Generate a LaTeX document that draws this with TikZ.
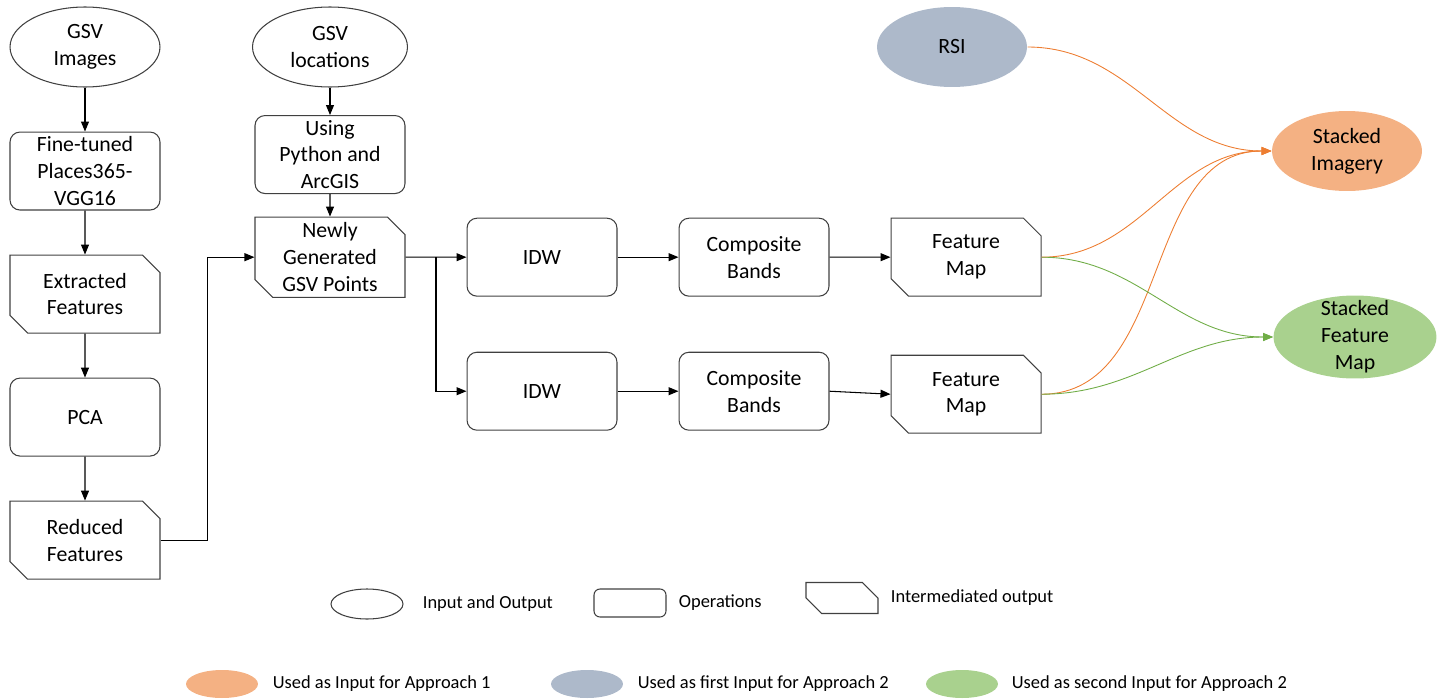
\documentclass[tikz,border=0pt]{standalone}
\usepackage{fontspec}
\setmainfont{Carlito}
\usetikzlibrary{positioning,arrows.meta,calc,shapes.geometric,shapes.misc}
\definecolor{edge}{HTML}{404040}
\definecolor{rsiblue}{HTML}{ADB9CA}
\definecolor{appone}{HTML}{F4B183}
\definecolor{apptwo}{HTML}{A9D18E}
\definecolor{oline}{HTML}{ED7D31}
\definecolor{gline}{HTML}{70AD47}

\begin{document}
\begin{tikzpicture}[
    x=0.02cm, y=-0.02cm,
    node distance=8.8mm and 12.2mm,
    font=\fontsize{12.4}{15.3}\selectfont,
    io/.style={draw=edge, line width=0.6pt, ellipse, minimum width=3cm, minimum height=1.6cm, inner sep=0pt, align=center},
    op/.style={draw=edge, line width=0.6pt, rounded corners=2mm, minimum width=3cm, minimum height=1.56cm, inner sep=0pt, align=center},
    mid/.style={draw=edge, line width=0.6pt, chamfered rectangle, chamfered rectangle corners={north east,south west}, chamfered rectangle xsep=0.24cm, minimum width=3cm, minimum height=1.56cm, inner sep=0pt, align=center},
    arr/.style={-{Triangle[length=2mm,width=1.6mm]}, line width=0.6pt},
    oarr/.style={arr, draw=oline, line width=0.5pt},
    garr/.style={arr, draw=gline, line width=0.5pt},
    legtxt/.style={font=\fontsize{10.5}{12}\selectfont, inner sep=0pt, anchor=west}
]
    \useasboundingbox (0,0) rectangle (1448,700);

    % left column
    \node[io] (gsvimg) at (85,47) {GSV\\Images};
    \node[op, below=of gsvimg] (vgg) {Fine-tuned\\Places365-\\VGG16};
    \node[mid, below=of vgg] (feat) {Extracted\\Features};
    \node[op, below=of feat] (pca) {PCA};
    \node[mid, below=of pca] (red) {Reduced\\Features};

    % locations
    \node[io, minimum width=3.1cm] (gsvloc) at (330,47) {GSV\\locations};
    \node[op, below=5.5mm of gsvloc] (py) {Using\\Python and\\ArcGIS};
    \node[mid, below=4.5mm of py] (pts) {Newly\\Generated\\GSV Points};

    % two rows
    \node[op, right=of pts] (idwa) {IDW};
    \node[op, right=of idwa] (compa) {Composite\\Bands};
    \node[mid, right=of compa] (mapa) {Feature\\Map};
    \node[op, below=11mm of idwa] (idwb) {IDW};
    \node[op, right=of idwb] (compb) {Composite\\Bands};
    \node[mid, right=of compb, yshift=-0.6mm] (mapb) {Feature\\Map};

    % outputs
    \node[io, draw=none, fill=rsiblue] (rsi) at (952,47) {RSI};
    \node[io, draw=none, fill=appone] (stimg) at (1347,151) {Stacked\\Imagery};
    \node[io, draw=none, fill=apptwo, minimum width=3.26cm, minimum height=1.66cm,
        label={[align=center]center:Stacked\\Feature\\Map}] (stfm) at (1355,337) {};

    \draw[arr] (gsvimg) -- (vgg);
    \draw[arr] (vgg) -- (feat);
    \draw[arr] (feat) -- (pca);
    \draw[arr] (pca) -- (red);
    \draw[arr] (red.east) -- ++(47,0) |- (pts.west);
    \draw[arr] (gsvloc) -- (py);
    \draw[arr] (py) -- (pts);

    \coordinate (split) at ($(pts.east)!0.5!(idwa.west)$);
    \draw[arr] (pts) -- (idwa);
    \draw[arr] (split) |- (idwb);
    \draw[arr] (idwa) -- (compa);
    \draw[arr] (compa) -- (mapa);
    \draw[arr] (idwb) -- (compb);
    \draw[arr] (compb.east) -- (mapb.west);

    \draw[oarr] (rsi.east) to[out=0,in=180] (stimg.west);
    \draw[oarr] (mapa.east) to[out=0,in=180] (stimg.west);
    \draw[oarr] (mapb.east) to[out=0,in=180] (stimg.west);
    \draw[garr] (mapa.east) to[out=0,in=180] (stfm.west);
    \draw[garr] (mapb.east) to[out=0,in=180] (stfm.west);

    % legend
    \node[io, minimum width=1.44cm, minimum height=0.6cm] (lgio) at (367,604) {};
    \node[legtxt, right=0.38cm of lgio] (lgiotxt) {Input and Output};
    \node[op, minimum width=1.44cm, minimum height=0.56cm, rounded corners=1.2mm] (lgop) at (630,603) {};
    \node[legtxt, right=0.24cm of lgop] (lgoptxt) {Operations};
    \node[mid, minimum width=1.44cm, minimum height=0.58cm, chamfered rectangle sep=0.16cm] (lgint) at (842,598) {\hspace*{1cm}\rule{0pt}{3mm}};
    \node[legtxt, right=0.24cm of lgint] (lginttxt) {Intermediated output};

    \node[io, draw=none, fill=appone, minimum width=1.44cm, minimum height=0.56cm] (lgo) at (222,684) {};
    \node[legtxt, right=0.28cm of lgo] (lgotxt) {Used as Input for Approach 1};
    \node[io, draw=none, fill=rsiblue, minimum width=1.44cm, minimum height=0.56cm] (lgb) at (587,684) {};
    \node[legtxt, right=0.28cm of lgb] (lgbtxt) {Used as first Input for Approach 2};
    \node[io, draw=none, fill=apptwo, minimum width=1.44cm, minimum height=0.56cm] (lgg) at (962,684) {};
    \node[legtxt, right=0.26cm of lgg] (lggtxt) {Used as second Input for Approach 2};
\end{tikzpicture}
\end{document}
